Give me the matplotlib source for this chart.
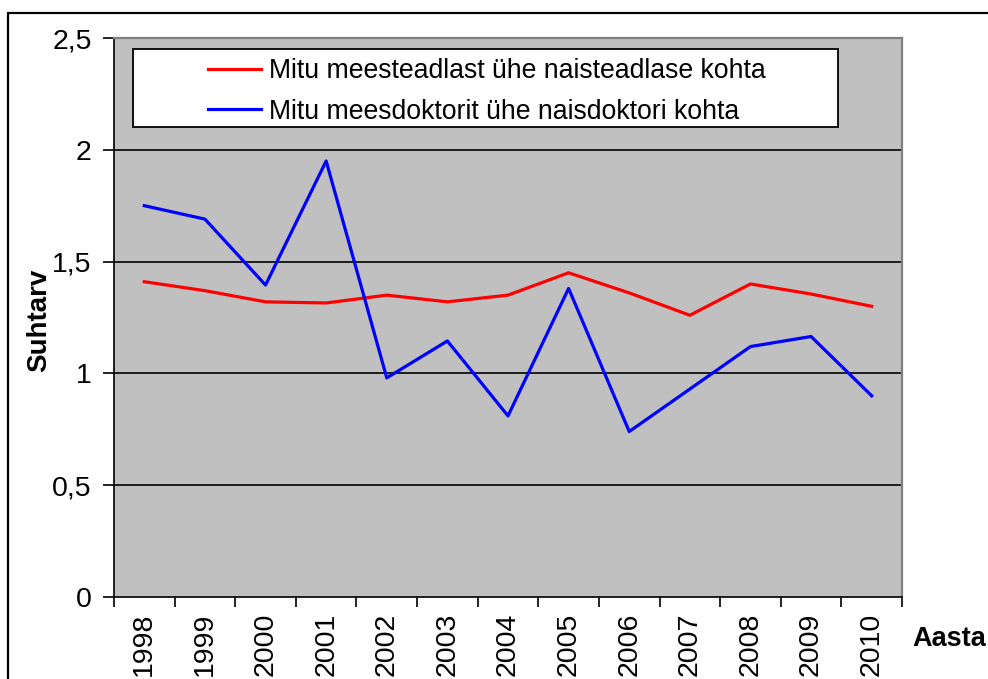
import matplotlib
matplotlib.use("Agg")
import matplotlib.pyplot as plt
from matplotlib.patches import Rectangle

years = ["1998", "1999", "2000", "2001", "2002", "2003", "2004",
         "2005", "2006", "2007", "2008", "2009", "2010"]
teadlased = [1.41, 1.37, 1.32, 1.315, 1.35, 1.32, 1.35,
             1.45, 1.36, 1.26, 1.40, 1.355, 1.30]
doktorid = [1.75, 1.69, 1.395, 1.95, 0.98, 1.145, 0.81,
            1.38, 0.74, 0.93, 1.12, 1.165, 0.90]
yticks = [0, 0.5, 1, 1.5, 2, 2.5]
ytick_labels = ["0", "0,5", "1", "1,5", "2", "2,5"]
label_red = "Mitu meesteadlast ühe naisteadlase kohta"
label_blue = "Mitu meesdoktorit ühe naisdoktori kohta"

plt.rcParams['font.family'] = ['Liberation Sans', 'DejaVu Sans']
FS = 20.5
LFS = 19.2

W, H = 988, 679
fig = plt.figure(figsize=(W / 100, H / 100), dpi=100)

# figure border
fig.patches.append(Rectangle((8 / W, -0.1), 1.2, (H - 13) / H + 0.1,
                             transform=fig.transFigure, fill=False,
                             edgecolor='black', linewidth=1.6, zorder=0))

L, R, T, B = 114, 902, 38, 597
ax = fig.add_axes([L / W, 1 - B / H, (R - L) / W, (B - T) / H])
ax.set_facecolor('#C0C0C0')

x = list(range(len(years)))
ax.plot(x, teadlased, color='#FF0000', lw=2.3, label=label_red, zorder=3)
ax.plot(x, doktorid, color='#0000FF', lw=2.3, label=label_blue, zorder=3)

ax.set_xlim(-0.5, len(years) - 0.5)
ax.set_ylim(0, 2.5)
ax.set_yticks(yticks)
ax.set_yticklabels(ytick_labels, fontsize=FS)
for yv in yticks[1:-1]:
    ax.axhline(yv, color='black', lw=1.2, zorder=1)

ax.set_xticks([i - 0.5 for i in range(len(years) + 1)])
ax.set_xticklabels([])
ax.set_xticks(x, minor=True)
ax.set_xticklabels(years, minor=True, rotation=90, fontsize=FS, va='top')
ax.tick_params(axis='x', which='minor', length=0, pad=11)
ax.tick_params(axis='x', which='major', length=7, width=1.2, direction='out')
ax.tick_params(axis='y', length=8, width=1.2, direction='out', pad=8)

for s in ['left', 'bottom']:
    ax.spines[s].set_color('black')
    ax.spines[s].set_linewidth(1.2)
for s in ['top', 'right']:
    ax.spines[s].set_color('#808080')
    ax.spines[s].set_linewidth(1.6)

ax.set_ylabel("Suhtarv", fontsize=20, fontweight='bold')
ax.yaxis.set_label_coords((52 - L) / (R - L), 0.495)
fig.text(912 / W, 1 - 639 / H, "Aasta", fontsize=19.5, fontweight='bold',
         ha='left', va='center')

# legend frame
aw, ah = R - L, B - T
ax.add_patch(Rectangle(((133 - L) / aw, (B - 127) / ah), (838 - 133) / aw, (127 - 49) / ah,
                       transform=ax.transAxes, facecolor='white', edgecolor='black',
                       linewidth=1.3, zorder=4))
leg = ax.legend(loc='upper left', bbox_to_anchor=((208 - L) / aw, (B - 58) / ah),
                frameon=False, fontsize=LFS, borderpad=0, borderaxespad=0,
                handlelength=2.0, handletextpad=0.3, labelspacing=0.55)
leg.set_zorder(5)

fig.savefig("out.png", dpi=100)
